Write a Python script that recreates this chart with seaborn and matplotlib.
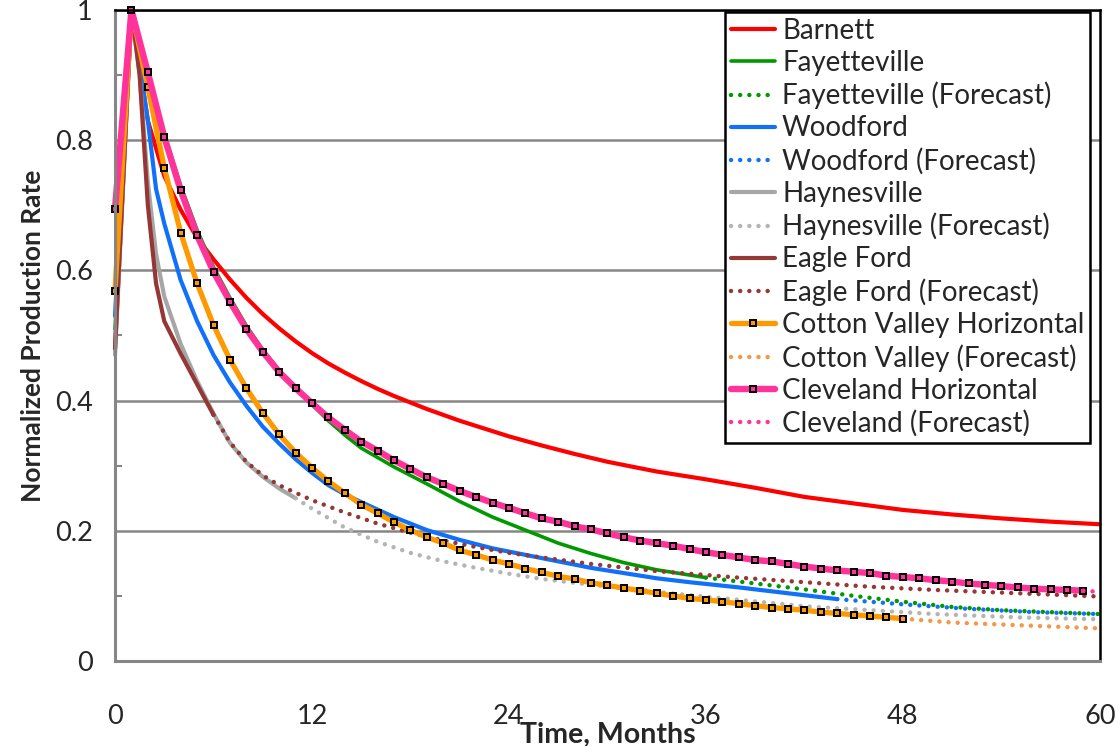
import matplotlib
matplotlib.use("Agg")
import matplotlib.pyplot as plt
import seaborn as sns
from matplotlib.ticker import MultipleLocator

# Barnett (solid, full range)
barnett_t = [0, 1, 2, 3, 4, 5, 6, 7, 8, 9, 10, 11, 12, 13, 14, 15, 16, 17, 18, 19, 20,
             21, 22, 23, 24, 26, 28, 30, 33, 36, 39, 42, 45, 48, 51, 54, 57, 60]
barnett_q = [0.48, 1.0, 0.83, 0.745, 0.693, 0.65, 0.617, 0.586, 0.558, 0.533, 0.511,
             0.491, 0.473, 0.457, 0.443, 0.430, 0.418, 0.407, 0.397, 0.387, 0.378, 0.369,
             0.361, 0.353, 0.345, 0.331, 0.318, 0.306, 0.291, 0.279, 0.266, 0.252, 0.242,
             0.232, 0.225, 0.219, 0.214, 0.210]

# Fayetteville
fay_t = [0, 1, 2, 3, 4, 5, 6, 7, 8, 9, 10, 11, 12, 13, 14, 15, 17, 19, 21, 23, 25, 27,
         29, 31, 33, 36]
fay_q = [0.51, 1.0, 0.905, 0.81, 0.73, 0.662, 0.605, 0.558, 0.515, 0.478, 0.446, 0.419,
         0.394, 0.369, 0.347, 0.327, 0.298, 0.272, 0.245, 0.221, 0.201, 0.181, 0.165,
         0.151, 0.140, 0.128]
fay_fc_t = [36, 39, 42, 45, 48, 51, 54, 57, 60]
fay_fc_q = [0.128, 0.119, 0.110, 0.100, 0.091, 0.083, 0.078, 0.075, 0.072]

# Woodford
wood_t = [0, 1, 2, 2.5, 3, 4, 5, 6, 7, 8, 9, 10, 11, 12, 13, 14, 15, 17, 19, 21, 23, 25,
          27, 29, 31, 33, 35, 38, 41, 44]
wood_q = [0.53, 1.0, 0.83, 0.725, 0.672, 0.585, 0.522, 0.47, 0.428, 0.392, 0.36, 0.334,
          0.31, 0.289, 0.27, 0.256, 0.244, 0.221, 0.201, 0.186, 0.173, 0.163, 0.153,
          0.143, 0.135, 0.127, 0.121, 0.113, 0.104, 0.095]
wood_fc_t = [44, 48, 52, 56, 60]
wood_fc_q = [0.095, 0.087, 0.080, 0.075, 0.072]

# Haynesville
hay_t = [0, 1, 1.5, 2, 2.5, 3, 4, 5, 6, 7, 8, 9, 10, 11]
hay_q = [0.47, 1.0, 0.90, 0.735, 0.625, 0.56, 0.487, 0.43, 0.38, 0.335, 0.305, 0.283,
         0.265, 0.250]
hay_fc_t = [11, 12, 14, 16, 18, 20, 22, 24, 26, 29, 32, 35, 38, 42, 46, 50, 55, 60]
hay_fc_q = [0.250, 0.234, 0.205, 0.183, 0.166, 0.153, 0.143, 0.134, 0.126, 0.117, 0.109,
            0.101, 0.094, 0.084, 0.078, 0.072, 0.067, 0.064]

# Eagle Ford
eagle_t = [0, 1, 1.5, 2, 2.5, 3, 4, 5, 6]
eagle_q = [0.48, 1.0, 0.90, 0.70, 0.58, 0.522, 0.472, 0.425, 0.378]
eagle_fc_t = [6, 7, 8, 9, 10, 12, 14, 16, 18, 20, 22, 24, 26, 29, 33, 38, 42, 46, 50,
              55, 60]
eagle_fc_q = [0.378, 0.336, 0.306, 0.285, 0.27, 0.247, 0.228, 0.211, 0.197, 0.185, 0.175,
              0.166, 0.159, 0.149, 0.138, 0.128, 0.121, 0.114, 0.109, 0.104, 0.099]

# Cotton Valley Horizontal (monthly, months 0-48)
cotton_t = list(range(49))
cotton_q = [0.569, 1.0, 0.881, 0.758, 0.658, 0.580, 0.516, 0.463, 0.419, 0.381, 0.348,
            0.320, 0.297, 0.276, 0.258, 0.240, 0.227, 0.213, 0.201, 0.190, 0.181, 0.170,
            0.163, 0.155, 0.149, 0.142, 0.136, 0.130, 0.126, 0.120, 0.116, 0.112, 0.108,
            0.104, 0.100, 0.096, 0.094, 0.091, 0.088, 0.085, 0.082, 0.080, 0.078, 0.075,
            0.073, 0.071, 0.069, 0.067, 0.065]
cotton_fc_t = [48, 51, 54, 57, 60]
cotton_fc_q = [0.065, 0.059, 0.056, 0.053, 0.050]

# Cleveland Horizontal (monthly, months 0-59)
clev_t = list(range(60))
clev_q = [0.694, 1.0, 0.904, 0.805, 0.723, 0.654, 0.598, 0.552, 0.510, 0.475, 0.444,
          0.419, 0.396, 0.374, 0.355, 0.337, 0.323, 0.308, 0.295, 0.282, 0.272, 0.261,
          0.252, 0.243, 0.235, 0.227, 0.219, 0.214, 0.207, 0.202, 0.196, 0.190, 0.185,
          0.181, 0.177, 0.172, 0.167, 0.163, 0.159, 0.155, 0.153, 0.149, 0.145, 0.142,
          0.139, 0.137, 0.135, 0.131, 0.129, 0.127, 0.124, 0.122, 0.119, 0.117, 0.115,
          0.113, 0.111, 0.110, 0.109, 0.108]
clev_fc_t = [59, 60]
clev_fc_q = [0.108, 0.106]

x_ticks = [0, 12, 24, 36, 48, 60]
y_ticks = [0, 0.2, 0.4, 0.6, 0.8, 1.0]
y_tick_labels = ["0", "0.2", "0.4", "0.6", "0.8", "1"]

sns.set_style("white")
plt.rcParams["font.family"] = ["Lato", "DejaVu Sans"]

fig, ax = plt.subplots(figsize=(11.2, 7.46), dpi=100)
fig.subplots_adjust(left=0.1027, right=0.982, top=0.9866, bottom=0.114)

dot = (0, (0.01, 2.05))
grid_gray = "#868686"

# (t, q, label, color, linestyle, linewidth, marker)
series = [
    (barnett_t, barnett_q, "Barnett", "#FF0000", "-", 3.0, None),
    (fay_t, fay_q, "Fayetteville", "#009A00", "-", 2.6, None),
    (fay_fc_t, fay_fc_q, "Fayetteville (Forecast)", "#009A00", dot, 3.2, None),
    (wood_t, wood_q, "Woodford", "#1070FA", "-", 3.0, None),
    (wood_fc_t, wood_fc_q, "Woodford (Forecast)", "#1070FA", dot, 3.2, None),
    (hay_t, hay_q, "Haynesville", "#A6A6A6", "-", 3.0, None),
    (hay_fc_t, hay_fc_q, "Haynesville (Forecast)", "#B4B4B4", dot, 3.2, None),
    (eagle_t, eagle_q, "Eagle Ford", "#953735", "-", 3.0, None),
    (eagle_fc_t, eagle_fc_q, "Eagle Ford (Forecast)", "#953735", dot, 3.2, None),
    (cotton_t, cotton_q, "Cotton Valley Horizontal", "#FF9900", "-", 3.8, "s"),
    (cotton_fc_t, cotton_fc_q, "Cotton Valley (Forecast)", "#F79646", dot, 3.2, None),
    (clev_t, clev_q, "Cleveland Horizontal", "#FF3399", "-", 4.6, "s"),
    (clev_fc_t, clev_fc_q, "Cleveland (Forecast)", "#FF3399", dot, 3.2, None),
]

for t, q, label, color, ls, lw, marker in series:
    kws = dict(color=color, linestyle=ls, linewidth=lw, label=label, clip_on=False,
               dash_capstyle="round", solid_capstyle="round", solid_joinstyle="round")
    if marker:
        kws.update(marker=marker, markersize=5, markerfacecolor=color,
                   markeredgecolor="black", markeredgewidth=1.4)
    sns.lineplot(x=t, y=q, ax=ax, **kws)

ax.set_xlim(0, 60)
ax.set_ylim(0, 1)
ax.set_xticks(x_ticks)
ax.set_xticklabels([str(v) for v in x_ticks])
ax.set_yticks(y_ticks)
ax.set_yticklabels(y_tick_labels)
ax.yaxis.set_minor_locator(MultipleLocator(0.1))

ax.set_axisbelow(True)
ax.yaxis.grid(True, color=grid_gray, linewidth=1.8)
ax.xaxis.grid(False)

for side in ["left", "bottom"]:
    ax.spines[side].set_color(grid_gray)
    ax.spines[side].set_linewidth(2.2)
for side in ["top", "right"]:
    ax.spines[side].set_color("black")
    ax.spines[side].set_linewidth(1.8)

ax.tick_params(axis="x", which="major", direction="inout", length=14, width=1.5,
               color=grid_gray, pad=24, labelsize=19.5)
ax.tick_params(axis="y", which="major", direction="out", length=9, width=1.8,
               color=grid_gray, pad=7, labelsize=19.5)
ax.tick_params(axis="y", which="minor", direction="in", length=5, width=1.5,
               color=grid_gray, left=True)

ax.set_xlabel("Time, Months", fontsize=20.5, fontweight="bold", labelpad=-5)
ax.set_ylabel("Normalized Production Rate", fontsize=19, fontweight="bold", labelpad=7)

leg = ax.legend(loc="upper right", bbox_to_anchor=(0.99, 0.997), borderaxespad=0,
                fontsize=20, frameon=True, fancybox=False, framealpha=1,
                edgecolor="black", handlelength=1.6, handletextpad=0.25,
                labelspacing=0.22, borderpad=0.2, numpoints=1)
leg.get_frame().set_linewidth(1.8)

fig.savefig("out.png", dpi=100)
